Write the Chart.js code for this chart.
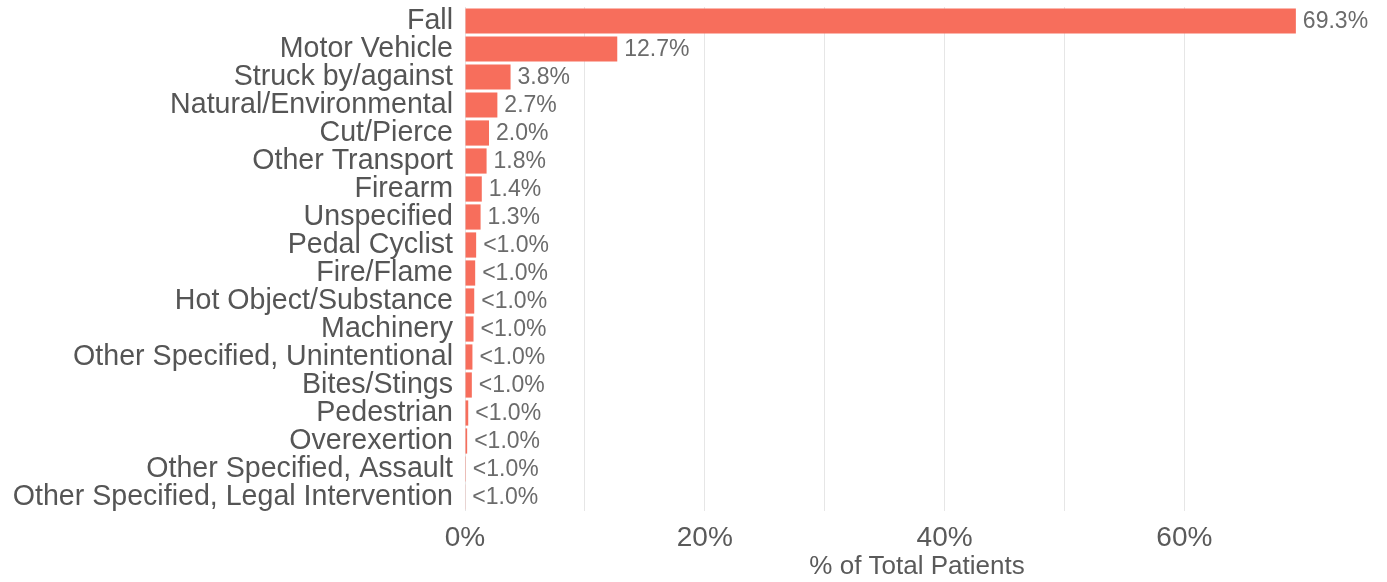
<!DOCTYPE html>
<html>
<head>
<meta charset="utf-8">
<script src="https://cdn.jsdelivr.net/npm/chart.js@4/dist/chart.umd.min.js"></script>
<style>
  html, body { margin: 0; padding: 0; background: #fff; }
  #wrap { width: 1387px; height: 582px; }
</style>
</head>
<body>
<div id="wrap"><canvas id="myChart" width="1387" height="582"></canvas></div>
<script>
// Datos de la gráfica
const categorias = [
  'Fall', 'Motor Vehicle', 'Struck by/against', 'Natural/Environmental',
  'Cut/Pierce', 'Other Transport', 'Firearm', 'Unspecified', 'Pedal Cyclist',
  'Fire/Flame', 'Hot Object/Substance', 'Machinery', 'Other Specified, Unintentional',
  'Bites/Stings', 'Pedestrian', 'Overexertion', 'Other Specified, Assault',
  'Other Specified, Legal Intervention'
];
const porcentajes = [69.3, 12.7, 3.8, 2.7, 2.0, 1.8, 1.4, 1.3, 0.93, 0.85, 0.77, 0.71, 0.62, 0.57, 0.27, 0.18, 0.07, 0.03];
const etiquetas = ['69.3%', '12.7%', '3.8%', '2.7%', '2.0%', '1.8%', '1.4%', '1.3%',
  '<1.0%', '<1.0%', '<1.0%', '<1.0%', '<1.0%', '<1.0%', '<1.0%', '<1.0%', '<1.0%', '<1.0%'];
const ticksEtiquetados = [0, 20, 40, 60];

const fuente = "'Liberation Sans', Arial, sans-serif";

// Plugin para escribir el valor al final de cada barra
const etiquetasBarras = {
  id: 'etiquetasBarras',
  afterDatasetsDraw(chart) {
    const ctx = chart.ctx;
    const meta = chart.getDatasetMeta(0);
    ctx.save();
    ctx.font = '23px ' + fuente;
    ctx.fillStyle = '#6b6b6b';
    ctx.textAlign = 'left';
    ctx.textBaseline = 'middle';
    meta.data.forEach((bar, i) => {
      ctx.fillText(etiquetas[i], bar.x + 7, bar.y + 1);
    });
    ctx.restore();
  }
};

new Chart(document.getElementById('myChart').getContext('2d'), {
  type: 'bar',
  data: {
    labels: categorias,
    datasets: [{
      data: porcentajes,
      backgroundColor: '#F76E5C',
      borderWidth: 0,
      barPercentage: 0.9,
      categoryPercentage: 1.0
    }]
  },
  options: {
    indexAxis: 'y',
    responsive: false,
    animation: false,
    layout: { padding: { top: 7, right: 18, bottom: 0, left: 0 } },
    plugins: {
      legend: { display: false },
      tooltip: { enabled: false }
    },
    scales: {
      x: {
        min: 0,
        max: 75.4,
        afterBuildTicks: axis => {
          axis.ticks = axis.ticks.filter(t => t.value % 10 === 0);
        },
        afterFit: s => { s.height = 71; },
        ticks: {
          stepSize: 10,
          autoSkip: false,
          maxRotation: 0,
          color: '#5a5a5a',
          padding: 10,
          font: { family: fuente, size: 28 },
          callback: v => ticksEtiquetados.includes(v) ? v + '%' : ''
        },
        grid: { color: '#e6e6e6', lineWidth: 1, drawTicks: false },
        border: { display: false },
        title: {
          display: true,
          text: '% of Total Patients',
          color: '#5a5a5a',
          font: { family: fuente, size: 26 },
          padding: { top: 7, bottom: 0 }
        }
      },
      y: {
        // ancho fijo para que el área empiece en x = 465, sin el relleno extra de las etiquetas
        afterFit: s => { s.width = 465; s.paddingTop = 0; s.paddingBottom = 0; },
        ticks: {
          color: '#555555',
          padding: 12,
          autoSkip: false,
          font: { family: fuente, size: 28.6 }
        },
        grid: { display: false, drawTicks: false },
        border: { display: false }
      }
    }
  },
  plugins: [etiquetasBarras]
});
</script>
</body>
</html>
